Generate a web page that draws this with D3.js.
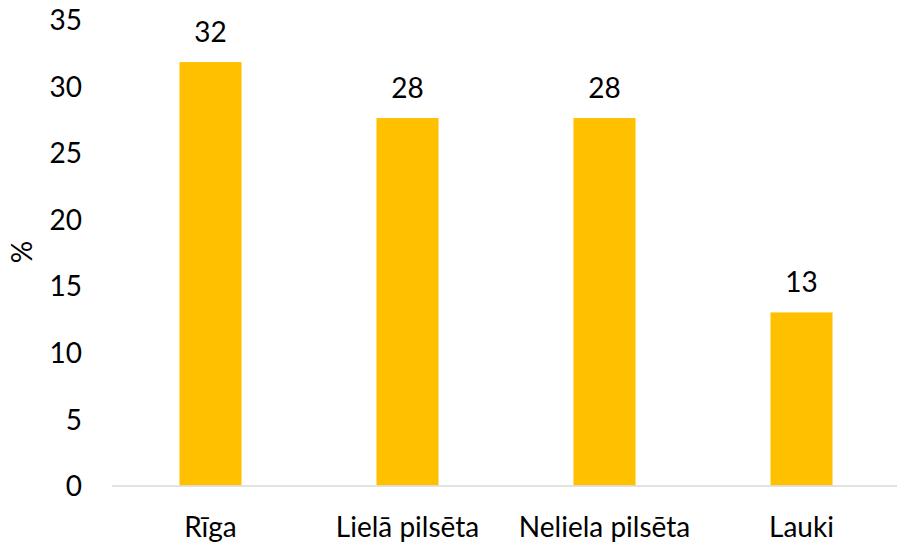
<!DOCTYPE html>
<html>
<head>
<meta charset="utf-8">
<script src="https://cdn.jsdelivr.net/npm/d3@7"></script>
<style>
  html, body { margin: 0; padding: 0; background: #fff; }
  svg text { font-family: Lato, "Open Sans", sans-serif; fill: #000; }
</style>
</head>
<body>
<svg id="chart" width="897" height="545"></svg>
<script>
const categories = ["Rīga", "Lielā pilsēta", "Neliela pilsēta", "Lauki"];
const values = [31.8, 27.6, 27.6, 13.0];
const yTicks = [0, 5, 10, 15, 20, 25, 30, 35];
const yLabel = "%";

(function () {
const svg = d3.select("#chart");
const W = 897, H = 545;
const mLeft = 112, mRight = 900, mTop = 19.5, mBottom = 485.5;
const fs = "28px";

const x = d3.scaleBand().domain(categories).range([mLeft, mRight])
  .paddingInner(0.685).paddingOuter(0.3425);
const y = d3.scaleLinear().domain([0, 35]).range([mBottom, mTop]);

// y axis labels
const yAxis = d3.axisLeft(y).tickValues(yTicks).tickSize(0).tickPadding(0);
const gy = svg.append("g").attr("transform", `translate(82,0)`).call(yAxis);
gy.select(".domain").remove();
gy.selectAll("text").style("font-size", fs).attr("dy", "0.36em")
  .style("font-family", "Lato, 'Open Sans', sans-serif").attr("fill", "#000");

// bars
svg.append("g").selectAll("rect").data(values).join("rect")
  .attr("x", (d, i) => x(categories[i]))
  .attr("width", x.bandwidth())
  .attr("y", d => y(d))
  .attr("height", d => y(0) - y(d))
  .attr("fill", "#FFC000");

// x axis
const xAxis = d3.axisBottom(x).tickSize(0).tickPadding(0);
const gx = svg.append("g").attr("transform", `translate(0,${mBottom})`).call(xAxis);
gx.select(".domain").attr("stroke", "#d9d9d9").attr("stroke-width", 1.5)
  .attr("d", `M${mLeft},0.5H${W}`);
gx.selectAll("text").style("font-size", fs).attr("dy", null).attr("y", 51.5)
  .style("font-family", "Lato, 'Open Sans', sans-serif").attr("fill", "#000");

// value labels
svg.append("g").selectAll("text").data(values).join("text")
  .attr("x", (d, i) => x(categories[i]) + x.bandwidth() / 2)
  .attr("y", d => y(d) - 20)
  .attr("text-anchor", "middle")
  .style("font-size", fs)
  .text(d => d3.format(".0f")(d));

// y label
svg.append("text")
  .attr("transform", "translate(32,252) rotate(-90)")
  .attr("text-anchor", "middle")
  .style("font-size", fs)
  .text(yLabel);
})();
</script>
</body>
</html>
